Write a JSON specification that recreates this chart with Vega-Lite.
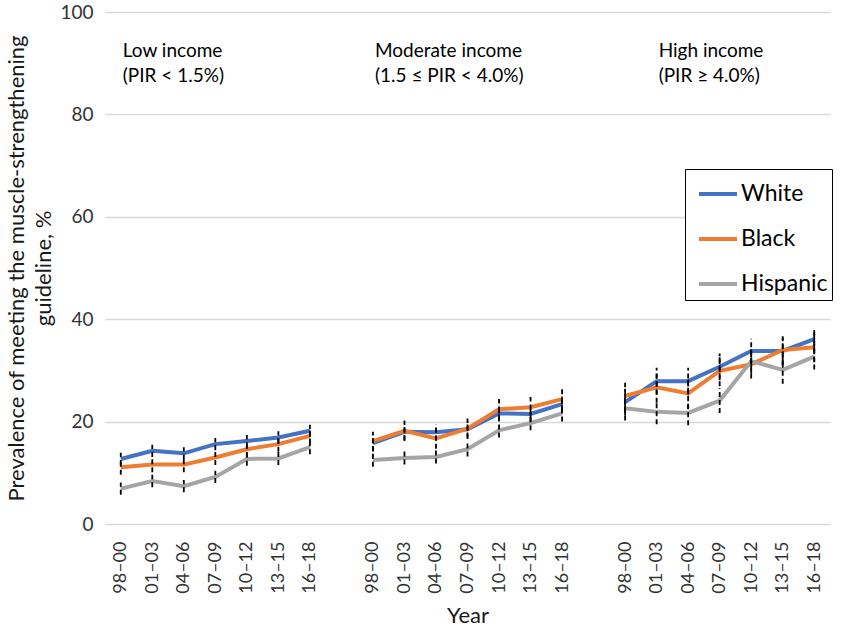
{
  "$schema": "https://vega.github.io/schema/vega-lite/v6.json",
  "width": 725,
  "height": 512,
  "autosize": {"type": "none"},
  "padding": {"left": 105, "top": 12, "right": 11, "bottom": 106},
  "background": "white",
  "config": {
    "view": {"stroke": null},
    "font": "Lato",
    "axis": {"labelColor": "#333333", "titleColor": "#1a1a1a", "labelFont": "Lato", "titleFont": "Lato", "titleFontWeight": "normal"}
  },
  "datasets": {
    "prev": [
      {"group": "L", "period": "98–00", "race": "White", "v": 12.7, "lo": 11.5, "hi": 13.9},
      {"group": "L", "period": "01–03", "race": "White", "v": 14.3, "lo": 13.1, "hi": 15.5},
      {"group": "L", "period": "04–06", "race": "White", "v": 13.8, "lo": 12.6, "hi": 15.0},
      {"group": "L", "period": "07–09", "race": "White", "v": 15.6, "lo": 14.4, "hi": 16.8},
      {"group": "L", "period": "10–12", "race": "White", "v": 16.2, "lo": 15.0, "hi": 17.4},
      {"group": "L", "period": "13–15", "race": "White", "v": 16.9, "lo": 15.7, "hi": 18.1},
      {"group": "L", "period": "16–18", "race": "White", "v": 18.2, "lo": 17.0, "hi": 19.4},
      {"group": "L", "period": "98–00", "race": "Black", "v": 11.1, "lo": 9.6, "hi": 12.6},
      {"group": "L", "period": "01–03", "race": "Black", "v": 11.6, "lo": 10.1, "hi": 13.1},
      {"group": "L", "period": "04–06", "race": "Black", "v": 11.6, "lo": 10.1, "hi": 13.1},
      {"group": "L", "period": "07–09", "race": "Black", "v": 13.0, "lo": 11.5, "hi": 14.5},
      {"group": "L", "period": "10–12", "race": "Black", "v": 14.6, "lo": 13.1, "hi": 16.1},
      {"group": "L", "period": "13–15", "race": "Black", "v": 15.6, "lo": 14.1, "hi": 17.1},
      {"group": "L", "period": "16–18", "race": "Black", "v": 17.2, "lo": 15.7, "hi": 18.7},
      {"group": "L", "period": "98–00", "race": "Hispanic", "v": 6.9, "lo": 5.7, "hi": 8.1},
      {"group": "L", "period": "01–03", "race": "Hispanic", "v": 8.4, "lo": 7.2, "hi": 9.6},
      {"group": "L", "period": "04–06", "race": "Hispanic", "v": 7.4, "lo": 6.2, "hi": 8.6},
      {"group": "L", "period": "07–09", "race": "Hispanic", "v": 9.2, "lo": 8.0, "hi": 10.4},
      {"group": "L", "period": "10–12", "race": "Hispanic", "v": 12.7, "lo": 11.4, "hi": 14.0},
      {"group": "L", "period": "13–15", "race": "Hispanic", "v": 12.8, "lo": 11.5, "hi": 14.1},
      {"group": "L", "period": "16–18", "race": "Hispanic", "v": 15.0, "lo": 13.6, "hi": 16.4},
      {"group": "M", "period": "98–00", "race": "White", "v": 15.8, "lo": 14.2, "hi": 17.4},
      {"group": "M", "period": "01–03", "race": "White", "v": 18.0, "lo": 16.4, "hi": 19.6},
      {"group": "M", "period": "04–06", "race": "White", "v": 17.9, "lo": 16.3, "hi": 19.5},
      {"group": "M", "period": "07–09", "race": "White", "v": 18.5, "lo": 16.9, "hi": 20.1},
      {"group": "M", "period": "10–12", "race": "White", "v": 21.6, "lo": 20.0, "hi": 23.2},
      {"group": "M", "period": "13–15", "race": "White", "v": 21.5, "lo": 19.9, "hi": 23.1},
      {"group": "M", "period": "16–18", "race": "White", "v": 23.4, "lo": 21.8, "hi": 25.0},
      {"group": "M", "period": "98–00", "race": "Black", "v": 16.2, "lo": 14.2, "hi": 18.0},
      {"group": "M", "period": "01–03", "race": "Black", "v": 18.2, "lo": 16.2, "hi": 20.2},
      {"group": "M", "period": "04–06", "race": "Black", "v": 16.7, "lo": 14.7, "hi": 18.7},
      {"group": "M", "period": "07–09", "race": "Black", "v": 18.6, "lo": 16.6, "hi": 20.6},
      {"group": "M", "period": "10–12", "race": "Black", "v": 22.4, "lo": 20.4, "hi": 24.4},
      {"group": "M", "period": "13–15", "race": "Black", "v": 22.8, "lo": 20.8, "hi": 24.8},
      {"group": "M", "period": "16–18", "race": "Black", "v": 24.4, "lo": 22.2, "hi": 26.6},
      {"group": "M", "period": "98–00", "race": "Hispanic", "v": 12.5, "lo": 11.2, "hi": 13.8},
      {"group": "M", "period": "01–03", "race": "Hispanic", "v": 12.9, "lo": 11.6, "hi": 14.2},
      {"group": "M", "period": "04–06", "race": "Hispanic", "v": 13.1, "lo": 11.8, "hi": 14.4},
      {"group": "M", "period": "07–09", "race": "Hispanic", "v": 14.6, "lo": 13.2, "hi": 16.0},
      {"group": "M", "period": "10–12", "race": "Hispanic", "v": 18.3, "lo": 16.9, "hi": 19.7},
      {"group": "M", "period": "13–15", "race": "Hispanic", "v": 19.7, "lo": 18.3, "hi": 21.1},
      {"group": "M", "period": "16–18", "race": "Hispanic", "v": 21.6, "lo": 20.0, "hi": 23.2},
      {"group": "H", "period": "98–00", "race": "White", "v": 23.8, "lo": 21.2, "hi": 26.4},
      {"group": "H", "period": "01–03", "race": "White", "v": 27.9, "lo": 25.3, "hi": 30.5},
      {"group": "H", "period": "04–06", "race": "White", "v": 27.9, "lo": 25.3, "hi": 30.5},
      {"group": "H", "period": "07–09", "race": "White", "v": 30.7, "lo": 28.1, "hi": 33.3},
      {"group": "H", "period": "10–12", "race": "White", "v": 33.8, "lo": 31.4, "hi": 36.2},
      {"group": "H", "period": "13–15", "race": "White", "v": 33.8, "lo": 31.2, "hi": 36.4},
      {"group": "H", "period": "16–18", "race": "White", "v": 36.1, "lo": 33.8, "hi": 38.2},
      {"group": "H", "period": "98–00", "race": "Black", "v": 25.0, "lo": 22.0, "hi": 27.6},
      {"group": "H", "period": "01–03", "race": "Black", "v": 26.7, "lo": 23.7, "hi": 29.7},
      {"group": "H", "period": "04–06", "race": "Black", "v": 25.5, "lo": 22.5, "hi": 28.5},
      {"group": "H", "period": "07–09", "race": "Black", "v": 29.9, "lo": 26.9, "hi": 32.9},
      {"group": "H", "period": "10–12", "race": "Black", "v": 31.2, "lo": 28.4, "hi": 34.0},
      {"group": "H", "period": "13–15", "race": "Black", "v": 34.0, "lo": 31.0, "hi": 37.0},
      {"group": "H", "period": "16–18", "race": "Black", "v": 34.5, "lo": 31.6, "hi": 37.4},
      {"group": "H", "period": "98–00", "race": "Hispanic", "v": 22.6, "lo": 20.2, "hi": 25.0},
      {"group": "H", "period": "01–03", "race": "Hispanic", "v": 21.9, "lo": 19.5, "hi": 24.3},
      {"group": "H", "period": "04–06", "race": "Hispanic", "v": 21.7, "lo": 19.3, "hi": 24.1},
      {"group": "H", "period": "07–09", "race": "Hispanic", "v": 24.1, "lo": 21.7, "hi": 26.5},
      {"group": "H", "period": "10–12", "race": "Hispanic", "v": 31.8, "lo": 29.4, "hi": 34.2},
      {"group": "H", "period": "13–15", "race": "Hispanic", "v": 30.1, "lo": 27.4, "hi": 32.8},
      {"group": "H", "period": "16–18", "race": "Hispanic", "v": 32.7, "lo": 30.2, "hi": 35.2}
    ],
    "notes": [
      {"group": "L", "period": "98–00", "text": "Low income\n(PIR < 1.5%)"},
      {"group": "M", "period": "98–00", "text": "Moderate income\n(1.5 ≤ PIR < 4.0%)"},
      {"group": "H", "period": "01–03", "text": "High income\n(PIR ≥ 4.0%)"}
    ]
  },
  "encoding": {
    "x": {
      "field": "key",
      "type": "nominal",
      "scale": {
        "type": "point",
        "padding": 0.5,
        "domain": ["L|98–00", "L|01–03", "L|04–06", "L|07–09", "L|10–12", "L|13–15", "L|16–18", "gap1",
                   "M|98–00", "M|01–03", "M|04–06", "M|07–09", "M|10–12", "M|13–15", "M|16–18", "gap2",
                   "H|98–00", "H|01–03", "H|04–06", "H|07–09", "H|10–12", "H|13–15", "H|16–18"]
      },
      "axis": {
        "title": "Year",
        "titleFontSize": 22,
        "titlePadding": 12,
        "labelExpr": "split(datum.value, '|')[1] || ''",
        "labelAngle": -90,
        "labelFontSize": 18,
        "labelPadding": 17,
        "ticks": false,
        "domain": false,
        "grid": false
      }
    }
  },
  "layer": [
    {
      "data": {"name": "prev"},
      "transform": [{"calculate": "datum.group + '|' + datum.period", "as": "key"}],
      "mark": {"type": "line", "strokeWidth": 4},
      "encoding": {
        "y": {
          "field": "v",
          "type": "quantitative",
          "scale": {"domain": [0, 100]},
          "axis": {
            "values": [0, 20, 40, 60, 80, 100],
            "title": ["Prevalence of meeting the muscle-strengthening", "guideline, %"],
            "titleFontSize": 22,
            "titleLineHeight": 27,
            "titlePadding": 4,
            "labelFontSize": 19,
            "labelPadding": 12,
            "ticks": false,
            "domain": false,
            "gridColor": "#d9d9d9",
            "gridWidth": 1.5
          }
        },
        "color": {
          "field": "race",
          "type": "nominal",
          "scale": {"domain": ["White", "Black", "Hispanic"], "range": ["#4472C4", "#ED7D31", "#A5A5A5"]},
          "legend": {
            "title": null,
            "orient": "none",
            "legendX": 580,
            "legendY": 157,
            "strokeColor": "#000000",
            "fillColor": "white",
            "padding": 4,
            "rowPadding": 12,
            "labelFontSize": 23,
            "labelColor": "#000000",
            "labelFont": "Lato",
            "labelOffset": 2,
            "symbolOffset": 8,
            "symbolType": "stroke",
            "symbolSize": 1444,
            "symbolStrokeWidth": 4
          }
        },
        "detail": {"field": "group"},
        "order": {"value": null}
      }
    },
    {
      "data": {"name": "prev"},
      "transform": [{"calculate": "datum.group + '|' + datum.period", "as": "key"}],
      "mark": {"type": "rule", "color": "#000000", "strokeWidth": 1.8, "strokeDash": [5, 3]},
      "encoding": {
        "y": {"field": "lo", "type": "quantitative"},
        "y2": {"field": "hi"}
      }
    },
    {
      "data": {"name": "notes"},
      "transform": [{"calculate": "datum.group + '|' + datum.period", "as": "key"}],
      "mark": {"type": "text", "align": "left", "baseline": "top", "fontSize": 19, "lineBreak": "\n", "lineHeight": 25, "color": "#000000", "dx": 2},
      "encoding": {
        "y": {"datum": 94.2},
        "text": {"field": "text"}
      }
    }
  ]
}
